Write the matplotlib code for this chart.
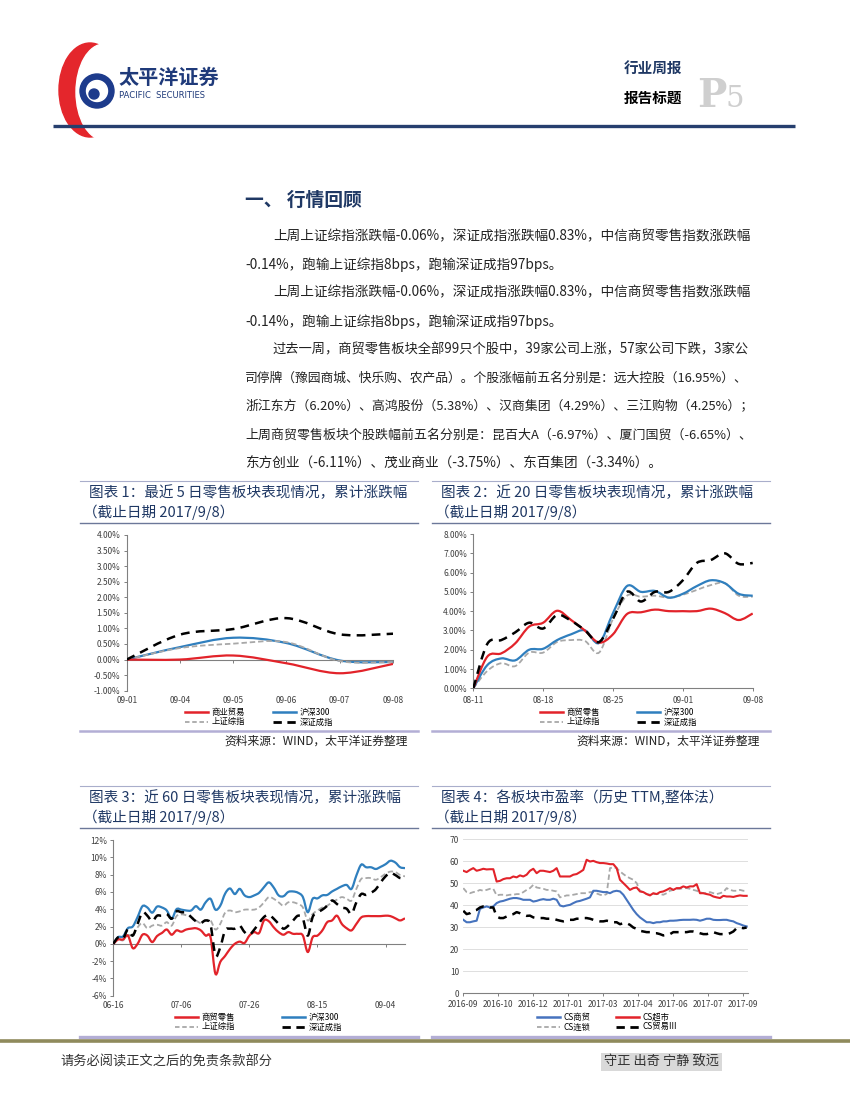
import numpy as np
import matplotlib
matplotlib.use('Agg')
import matplotlib.pyplot as plt
from matplotlib.path import Path
from matplotlib.patches import PathPatch, Ellipse, Circle
from matplotlib.lines import Line2D

plt.rcParams['font.family'] = ['Noto Sans CJK SC', 'DejaVu Sans']

# ---------------- data ----------------
# chart 1: last 5 days, cumulative %
c1_dates = ['09-01', '09-04', '09-05', '09-06', '09-07', '09-08']
c1_retail = [0.00, 0.00, 0.13, -0.12, -0.44, -0.14]
c1_hs300 = [0.00, 0.40, 0.70, 0.53, -0.03, -0.08]
c1_sh = [0.00, 0.37, 0.51, 0.56, -0.05, -0.08]
c1_sz = [0.00, 0.80, 0.98, 1.33, 0.81, 0.83]

# chart 2: last 20 days
c2_ticklabels = ['08-11', '08-18', '08-25', '09-01', '09-08']
c2_retail = [0.00, 1.64, 1.81, 2.33, 3.20, 3.40, 4.02, 3.54, 2.99, 2.37,
             2.80, 3.85, 3.94, 4.08, 4.00, 4.00, 4.00, 4.13, 3.90, 3.54, 3.88]
c2_hs300 = [0.00, 1.20, 1.55, 1.45, 2.00, 2.05, 2.50, 2.80, 3.00, 2.35,
            3.90, 5.30, 5.00, 5.05, 4.70, 4.90, 5.30, 5.60, 5.45, 4.90, 4.80]
c2_sh = [0.00, 0.90, 1.30, 1.15, 1.85, 1.85, 2.40, 2.50, 2.45, 1.85,
         3.60, 4.80, 4.75, 4.80, 4.70, 4.85, 5.10, 5.35, 5.45, 4.80, 4.75]
c2_sz = [0.00, 2.30, 2.50, 2.90, 3.40, 3.10, 3.80, 3.50, 3.00, 2.40,
         3.60, 5.00, 4.50, 5.00, 5.00, 5.60, 6.50, 6.65, 7.00, 6.45, 6.50]

# chart 3: last 60 days
c3_ticklabels = ['06-16', '07-06', '07-26', '08-15', '09-04']
c3_retail = [0.00, 0.50, 0.50, 0.95, -0.50, 0.00, 1.05, 0.95, 0.20, 0.90,
             1.25, 1.65, 1.05, 1.55, 1.40, 1.65, 1.75, 1.80, 1.55, 0.95,
             0.75, -3.45, -2.10, -1.40, -0.60, 0.00, 0.25, 0.10, 0.95, 1.35,
             1.25, 2.70, 2.60, 1.90, 1.35, 1.05, 1.35, 1.15, 1.15, 0.95,
             -0.95, 0.75, 0.95, 1.55, 2.50, 2.70, 3.25, 2.30, 1.80, 1.55,
             2.30, 3.05, 3.20, 3.20, 3.20, 3.20, 3.25, 3.20, 2.95, 2.70, 2.95]
c3_hs300 = [0.00, 0.77, 0.85, 1.80, 2.00, 3.10, 4.35, 4.20, 3.60, 4.30,
            4.20, 3.85, 2.90, 4.00, 3.95, 3.85, 3.85, 4.35, 3.95, 4.80,
            5.20, 3.95, 4.40, 5.80, 6.40, 5.75, 6.35, 5.60, 5.40, 5.60,
            5.90, 6.55, 7.10, 6.50, 5.60, 5.50, 6.00, 6.05, 5.90, 5.40,
            3.65, 5.20, 5.25, 5.60, 5.65, 6.05, 6.35, 6.65, 6.80, 6.35,
            7.90, 9.15, 8.85, 8.85, 8.65, 8.90, 9.20, 9.60, 9.40, 8.85, 8.75]
c3_sh = [0.00, 0.50, 0.40, 1.00, 0.95, 1.90, 2.40, 1.80, 2.10, 2.20,
         2.10, 2.50, 2.10, 3.20, 3.40, 3.30, 3.10, 2.70, 2.40, 2.70,
         2.70, 1.65, 2.30, 3.60, 3.85, 3.65, 3.75, 3.95, 3.95, 3.95,
         4.20, 4.80, 5.40, 5.20, 4.80, 4.40, 4.80, 4.80, 4.60, 4.20,
         2.70, 3.45, 3.85, 4.20, 4.40, 4.80, 5.10, 5.40, 5.20, 5.00,
         6.35, 7.50, 7.60, 7.60, 7.40, 7.70, 8.10, 8.35, 8.30, 7.95, 7.80]
c3_sz = [0.00, 0.75, 0.60, 1.65, 0.95, 2.30, 3.65, 3.25, 2.60, 3.25,
         3.25, 3.45, 2.90, 3.75, 3.65, 3.60, 3.10, 2.60, 2.40, 2.70,
         2.20, -1.35, -0.40, 1.55, 1.75, 1.75, 2.10, 1.35, 1.05, 1.65,
         2.40, 3.10, 3.35, 2.90, 2.30, 1.75, 2.10, 2.70, 3.25, 2.90,
         0.95, 3.10, 3.60, 3.95, 4.40, 5.00, 4.60, 4.20, 4.05, 3.45,
         4.80, 5.75, 5.65, 5.90, 6.30, 7.10, 7.80, 8.20, 7.95, 7.60, 7.60]

# chart 4: PE (TTM), sampled roughly every 3 trading days
c4_ticklabels = ['2016-09', '2016-10', '2016-12', '2017-01', '2017-03',
                 '2017-04', '2017-06', '2017-07', '2017-09']
c4_trade = [33.4, 32.3, 32.3, 32.7, 33.0, 38.4, 39.0, 39.5, 39.0, 39.5,
            41.0, 41.7, 42.0, 42.5, 43.0, 43.3, 43.3, 43.0, 42.5, 42.5,
            42.5, 41.7, 42.0, 42.5, 42.8, 42.5, 42.5, 43.0, 42.5, 39.9,
            39.5, 39.9, 40.2, 41.0, 41.7, 42.0, 42.5, 43.0, 43.6, 46.6,
            46.6, 46.3, 46.0, 46.0, 45.5, 46.3, 46.6, 46.3, 44.8, 42.5,
            40.2, 37.9, 36.0, 34.5, 33.4, 32.3, 32.3, 31.9, 32.3, 32.3,
            32.7, 32.7, 33.0, 33.0, 33.1, 33.3, 33.4, 33.4, 33.4, 33.5,
            33.4, 33.0, 33.4, 33.9, 33.9, 33.4, 33.3, 33.3, 33.4, 33.4,
            33.0, 32.7, 31.9, 31.4, 30.8, 30.4]
c4_super = [55.7, 55.1, 56.1, 56.9, 55.7, 56.1, 56.6, 56.3, 56.4, 56.4,
            50.8, 51.1, 51.9, 52.3, 52.3, 53.1, 52.7, 53.6, 53.1, 53.9,
            55.7, 56.6, 54.6, 55.7, 55.7, 55.4, 55.1, 55.7, 56.9, 53.1,
            53.1, 53.1, 53.1, 53.9, 54.2, 55.1, 56.1, 60.7, 59.9, 60.2,
            59.6, 59.2, 59.2, 59.0, 58.7, 58.7, 56.9, 51.6, 50.1, 48.6,
            47.0, 47.8, 48.1, 46.3, 46.0, 45.1, 44.5, 45.5, 45.1, 46.0,
            46.3, 47.0, 47.8, 47.0, 47.8, 47.8, 48.6, 48.1, 48.6, 48.6,
            49.6, 45.5, 45.5, 45.1, 44.8, 44.0, 43.6, 43.3, 44.3, 44.0,
            44.0, 43.8, 44.2, 44.5, 44.3, 44.3]
c4_chain = [47.8, 46.0, 45.5, 46.0, 46.3, 47.0, 46.6, 47.0, 47.5, 47.5,
            44.5, 44.8, 44.8, 44.5, 44.8, 44.8, 45.1, 45.1, 46.0, 47.0,
            47.8, 49.3, 48.1, 47.8, 47.5, 47.0, 47.0, 46.6, 46.3, 43.6,
            44.0, 44.5, 44.5, 44.8, 45.1, 45.5, 45.5, 45.5, 46.0, 46.0,
            45.4, 44.8, 44.5, 45.1, 56.9, 57.2, 56.9, 55.4, 54.2, 53.1,
            52.3, 51.6, 50.1, 46.6, 46.0, 45.1, 44.8, 45.1, 45.1, 45.1,
            44.8, 45.5, 46.6, 47.0, 47.5, 47.5, 47.8, 47.8, 47.5, 47.0,
            46.6, 46.0, 45.5, 45.5, 46.0, 45.5, 45.1, 45.5, 46.0, 47.8,
            47.0, 46.6, 46.6, 47.0, 46.6, 46.6]
c4_trade3 = [37.5, 36.0, 36.4, 37.5, 37.9, 39.0, 39.5, 39.5, 39.0, 39.0,
             34.9, 34.2, 34.2, 34.9, 35.7, 36.0, 36.9, 36.4, 35.7, 35.2,
             35.3, 34.5, 34.2, 34.2, 34.2, 33.9, 33.9, 33.9, 33.4, 33.0,
             32.7, 33.0, 33.4, 33.4, 33.9, 33.9, 34.2, 34.2, 33.9, 33.4,
             33.0, 32.7, 32.7, 33.0, 32.7, 32.3, 32.3, 31.4, 31.9, 31.9,
             31.1, 29.9, 29.3, 28.4, 28.1, 27.8, 27.8, 27.3, 27.3, 26.9,
             26.3, 26.6, 26.9, 27.8, 27.8, 27.8, 27.8, 27.8, 28.1, 28.1,
             27.8, 27.3, 26.9, 26.9, 27.3, 27.8, 27.3, 26.9, 26.9, 26.9,
             27.3, 28.1, 29.6, 29.9, 29.6, 29.9]

body_lines = [
    '上周上证综指涨跌幅-0.06%，深证成指涨跌幅0.83%，中信商贸零售指数涨跌幅',
    '-0.14%，跑输上证综指8bps，跑输深证成指97bps。',
    '上周上证综指涨跌幅-0.06%，深证成指涨跌幅0.83%，中信商贸零售指数涨跌幅',
    '-0.14%，跑输上证综指8bps，跑输深证成指97bps。',
    '过去一周，商贸零售板块全部99只个股中，39家公司上涨，57家公司下跌，3家公',
    '司停牌（豫园商城、快乐购、农产品）。个股涨幅前五名分别是：远大控股（16.95%）、',
    '浙江东方（6.20%）、高鸿股份（5.38%）、汉商集团（4.29%）、三江购物（4.25%）；',
    '上周商贸零售板块个股跌幅前五名分别是：昆百大A（-6.97%）、厦门国贸（-6.65%）、',
    '东方创业（-6.11%）、茂业商业（-3.75%）、东百集团（-3.34%）。',
]
body_indent = [True, False, True, False, True, False, False, False, False]
body_full = [True, False, True, False, True, True, True, True, False]

RED = '#E2232A'
BLUE = '#2F7FBE'
BLUE4 = '#4673BE'
GRAY = '#A8A8A8'
NAVY = '#1F3864'
AXC = '#808080'
TXT = '#404040'

W, H = 850, 1100
fig = plt.figure(figsize=(8.5, 11), dpi=100)
renderer = fig.canvas.get_renderer()

page = fig.add_axes([0, 0, 1, 1])
page.set_xlim(0, W)
page.set_ylim(H, 0)
page.axis('off')


def box(x0, ytop, x1, ybot):
    return [x0 / W, 1 - ybot / H, (x1 - x0) / W, (ybot - ytop) / H]


def smooth_line(ax, x, y, **kw):
    # Excel-like smoothed line as a cubic bezier path
    x = np.asarray(x, float)
    y = np.asarray(y, float)
    n = len(x)
    verts = [(x[0], y[0])]
    codes = [Path.MOVETO]
    for i in range(n - 1):
        j0 = max(i - 1, 0)
        j3 = min(i + 2, n - 1)
        c1 = (x[i] + (x[i + 1] - x[j0]) / 6, y[i] + (y[i + 1] - y[j0]) / 6)
        c2 = (x[i + 1] - (x[j3] - x[i]) / 6, y[i + 1] - (y[j3] - y[i]) / 6)
        verts += [c1, c2, (x[i + 1], y[i + 1])]
        codes += [Path.CURVE4] * 3
    ax.add_patch(PathPatch(Path(verts, codes), fill=False, **kw))


# ---------------- header ----------------
page.add_patch(Ellipse((90, 90), 62, 94, color='#E4262C', zorder=2))
page.add_patch(Ellipse((104, 92), 56, 96, color='white', zorder=3))
page.add_patch(Circle((97, 91), 17, color='#1D3B8C', zorder=4))
page.add_patch(Circle((97, 91), 10.5, color='white', zorder=5))
page.add_patch(Circle((94, 94), 5, color='#1D3B8C', zorder=6))
page.text(118, 77, '太平洋证券', fontsize=14.5, fontweight='bold', color='#1F3A7A',
          va='center', ha='left')
page.text(119, 95, 'PACIFIC  SECURITIES', fontsize=6, color='#1F3A7A',
          va='center', ha='left', family='DejaVu Sans')
page.text(624, 68, '行业周报', fontsize=10.5, fontweight='bold', color=NAVY, va='center')
page.text(624, 98, '报告标题', fontsize=10.5, fontweight='bold', color='black', va='center')
page.text(697, 107, 'P', fontsize=28, fontweight='bold', color='#CFCFCF',
          family='DejaVu Serif', va='baseline')
page.text(726, 107, '5', fontsize=21, color='#CFCFCF', family='DejaVu Serif', va='baseline')
page.plot([53, 795], [126, 126], color='#263F6E', lw=2.4, solid_capstyle='butt', zorder=10)

# ---------------- body ----------------
page.text(245, 200, '一、 行情回顾', fontsize=13.5, fontweight='bold', color=NAVY, va='center')
for i, line in enumerate(body_lines):
    x0 = 273 if body_indent[i] else 245
    t = page.text(x0, 236 + 28.4 * i, line, fontsize=9.8, color='#222222',
                  va='center', ha='left')
    if body_full[i]:
        # shrink/grow the full lines so they end at the text block's right edge
        w = t.get_window_extent(renderer).width
        t.set_fontsize(9.8 * (751 - x0) / w)

# ---------------- panel frames and titles ----------------
panels = [
    (80, 418, 481, 523, 731, '图表 1：最近 5 日零售板块表现情况，累计涨跌幅', True),
    (432, 770, 481, 523, 731, '图表 2：近 20 日零售板块表现情况，累计涨跌幅', True),
    (80, 418, 786, 828, 1037, '图表 3：近 60 日零售板块表现情况，累计涨跌幅', False),
    (432, 770, 786, 828, 1037, '图表 4：各板块市盈率（历史 TTM,整体法）', False),
]
for x0, x1, ytop, yund, ybot, title, src in panels:
    page.plot([x0, x1], [ytop, ytop], color='#A9AECB', lw=0.8)
    page.plot([x0, x1], [yund, yund], color='#6C7899', lw=1.0)
    page.plot([x0, x1], [ybot, ybot], color='#B3AED5', lw=1.8 if src else 2.4)
    page.text(x0 + 9, ytop + 12, title, fontsize=10.5, color=NAVY, va='center')
    page.text(x0 + 3, ytop + 31, '（截止日期 2017/9/8）', fontsize=10.5, color=NAVY, va='center')
    if src:
        page.text(x1 - 10, ybot + 10, '资料来源：WIND，太平洋证券整理', fontsize=8.5,
                  color='#222222', ha='right', va='center')

# ---------------- footer ----------------
page.plot([0, W], [1040.5, 1040.5], color='#8F8A5C', lw=2.6)
page.text(60, 1062, '请务必阅读正文之后的免责条款部分', fontsize=9.5, color='#333333', va='center')
page.text(604, 1062, '守正 出奇 宁静 致远', fontsize=9.5, color='#333333', va='center',
          bbox=dict(boxstyle='square,pad=0.2', facecolor='#D9D9D9', edgecolor='none'))


def style_axes(ax):
    ax.set_facecolor('none')
    for s in ['top', 'right']:
        ax.spines[s].set_visible(False)
    for s in ['left', 'bottom']:
        ax.spines[s].set_color(AXC)
        ax.spines[s].set_linewidth(0.8)
    ax.tick_params(colors=AXC, labelcolor=TXT, labelsize=6, length=2.5, width=0.7, pad=2)


def add_legend(ax, handles, labels, x, y, colspace):
    ax.legend(handles, labels, ncol=2, loc='upper left', bbox_to_anchor=(x, y),
              bbox_transform=page.transData, frameon=False, fontsize=6,
              handlelength=2.8, handletextpad=0.4, columnspacing=colspace,
              labelspacing=0.05, borderpad=0, borderaxespad=0)


def handles4(c_red, c_blue):
    return [Line2D([], [], color=c_red, lw=1.8),
            Line2D([], [], color=GRAY, lw=1.3, ls=(0, (2.5, 1.5))),
            Line2D([], [], color=c_blue, lw=1.8),
            Line2D([], [], color='black', lw=2.0, ls=(0, (3, 2)))]


# ---------------- chart 1 ----------------
ax1 = fig.add_axes(box(126.7, 535, 393, 690.7))
style_axes(ax1)
x1 = np.arange(len(c1_dates))
smooth_line(ax1, x1, c1_sh, edgecolor=GRAY, lw=1.3, ls=(0, (3, 1.6)), zorder=3)
smooth_line(ax1, x1, c1_hs300, edgecolor=BLUE, lw=1.6, zorder=2)
smooth_line(ax1, x1, c1_retail, edgecolor=RED, lw=1.6, zorder=4)
smooth_line(ax1, x1, c1_sz, edgecolor='black', lw=1.8, ls=(0, (3.5, 2.5)), zorder=5)
ax1.set_xlim(0, len(c1_dates) - 1)
ax1.set_ylim(-1, 4)
ax1.set_yticks(np.arange(-1, 4.01, 0.5), [f'{v:.2f}%' for v in np.arange(-1, 4.01, 0.5)])
ax1.spines['bottom'].set_position(('data', 0))
ax1.set_xticks(x1)
ax1.tick_params(axis='x', labelbottom=False)
sec1 = ax1.secondary_xaxis('bottom')
sec1.set_xticks(x1, c1_dates)
sec1.spines['bottom'].set_visible(False)
sec1.tick_params(length=0, labelsize=6, labelcolor=TXT, pad=4)
add_legend(ax1, handles4(RED, BLUE), ['商业贸易', '上证综指', '沪深300', '深证成指'],
           185, 708, 3.3)

# ---------------- chart 2 ----------------
ax2 = fig.add_axes(box(473.3, 534, 752.7, 688.3))
style_axes(ax2)
x2 = np.arange(len(c2_retail))
smooth_line(ax2, x2, c2_sh, edgecolor=GRAY, lw=1.3, ls=(0, (3, 1.6)), zorder=2)
smooth_line(ax2, x2, c2_hs300, edgecolor=BLUE, lw=1.6, zorder=3)
smooth_line(ax2, x2, c2_retail, edgecolor=RED, lw=1.6, zorder=4)
smooth_line(ax2, x2, c2_sz, edgecolor='black', lw=1.8, ls=(0, (3.5, 2.5)), zorder=5)
ax2.set_xlim(0, len(c2_retail) - 1)
ax2.set_ylim(0, 8)
ax2.set_yticks(np.arange(0, 8.01, 1), [f'{v:.2f}%' for v in np.arange(0, 8.01, 1)])
ax2.set_xticks(np.arange(0, len(c2_retail), 5), c2_ticklabels)
ax2.tick_params(axis='x', pad=3)
add_legend(ax2, handles4(RED, BLUE), ['商贸零售', '上证综指', '沪深300', '深证成指'],
           540, 708, 4.4)

# ---------------- chart 3 ----------------
ax3 = fig.add_axes(box(113.3, 840, 405, 995.7))
style_axes(ax3)
x3 = np.arange(len(c3_retail))
smooth_line(ax3, x3, c3_sh, edgecolor=GRAY, lw=1.3, ls=(0, (3, 1.6)), zorder=2)
smooth_line(ax3, x3, c3_hs300, edgecolor=BLUE, lw=1.6, zorder=3)
smooth_line(ax3, x3, c3_retail, edgecolor=RED, lw=1.6, zorder=4)
smooth_line(ax3, x3, c3_sz, edgecolor='black', lw=1.8, ls=(0, (3.5, 2.5)), zorder=5)
ax3.set_xlim(0, len(c3_retail) - 1)
ax3.set_ylim(-6, 12)
ax3.set_yticks(np.arange(-6, 13, 2), [f'{v}%' for v in range(-6, 13, 2)])
ax3.spines['bottom'].set_position(('data', 0))
t3 = np.arange(0, len(c3_retail), 14)
ax3.set_xticks(t3)
ax3.tick_params(axis='x', labelbottom=False)
sec3 = ax3.secondary_xaxis('bottom')
sec3.set_xticks(t3, c3_ticklabels)
sec3.spines['bottom'].set_visible(False)
sec3.tick_params(length=0, labelsize=6, labelcolor=TXT, pad=4)
add_legend(ax3, handles4(RED, BLUE), ['商贸零售', '上证综指', '沪深300', '深证成指'],
           175, 1013, 5.6)

# ---------------- chart 4 ----------------
ax4 = fig.add_axes(box(463.3, 839.3, 748, 993.3))
style_axes(ax4)
ax4.spines['left'].set_visible(False)
x4 = np.arange(len(c4_trade))
ax4.plot(x4, c4_chain, color=GRAY, lw=1.3, ls=(0, (3, 1.6)), zorder=2)
ax4.plot(x4, c4_super, color=RED, lw=1.5, zorder=3)
ax4.plot(x4, c4_trade, color=BLUE4, lw=1.5, zorder=4)
ax4.plot(x4, c4_trade3, color='black', lw=1.8, ls=(0, (3.5, 2.5)), zorder=5)
ax4.set_xlim(0, 85.4)
ax4.set_ylim(0, 70)
ax4.set_yticks(np.arange(0, 71, 10))
ax4.yaxis.grid(True, color='#D9D9D9', lw=0.6)
ax4.set_axisbelow(True)
ax4.tick_params(axis='y', length=0, pad=3)
ax4.set_xticks(np.arange(len(c4_ticklabels)) * 10.5, c4_ticklabels)
ax4.tick_params(axis='x', pad=2)
h4 = handles4(RED, BLUE4)
add_legend(ax4, [h4[2], h4[1], h4[0], h4[3]], ['CS商贸', 'CS连锁', 'CS超市', 'CS贸易III'],
           537, 1013, 3.0)

fig.savefig('out.png', dpi=100)
